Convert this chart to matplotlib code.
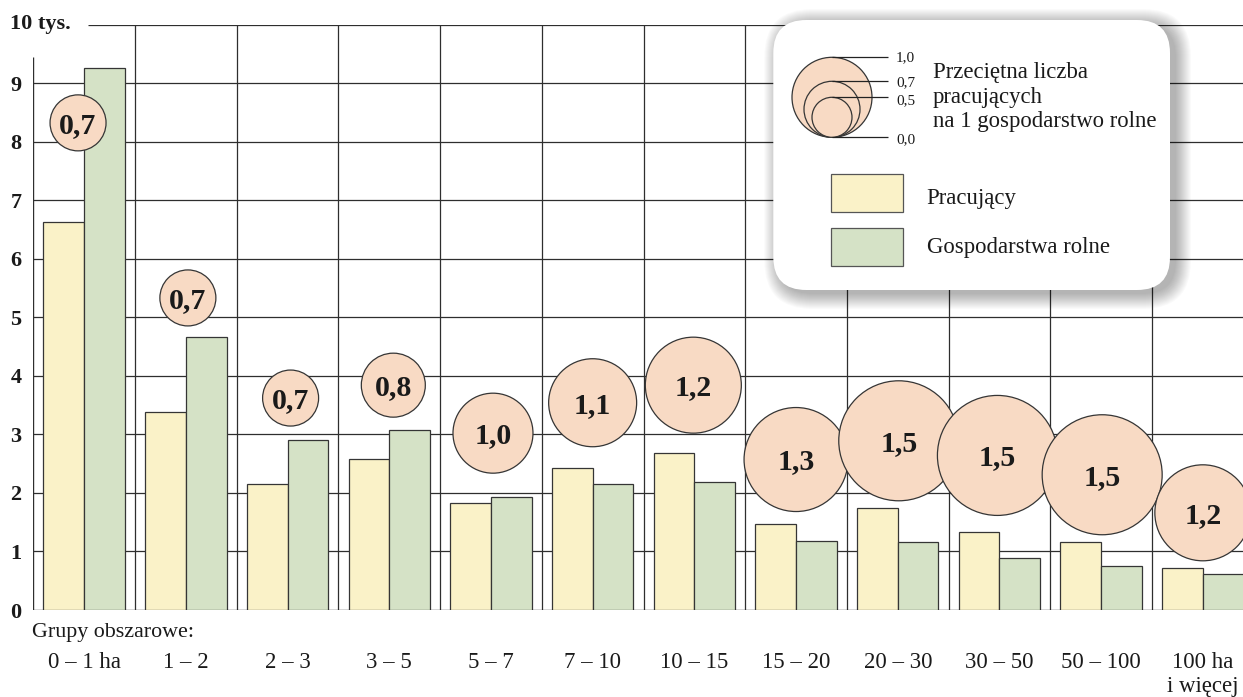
import matplotlib
matplotlib.use("Agg")
import matplotlib.pyplot as plt
import matplotlib.transforms as mtransforms
from matplotlib.patches import FancyBboxPatch, Circle, Rectangle
import numpy as np

plt.rcParams['font.family'] = ['Liberation Serif', 'DejaVu Serif']

# ---------------- data ----------------
categories = ["0 – 1 ha", "1 – 2", "2 – 3", "3 – 5", "5 – 7", "7 – 10", "10 – 15",
              "15 – 20", "20 – 30", "30 – 50", "50 – 100", "100 ha\ni więcej"]
pracujacy = [6.63, 3.38, 2.15, 2.58, 1.83, 2.43, 2.68, 1.47, 1.74, 1.33, 1.16, 0.71]
gospodarstwa = [9.25, 4.66, 2.90, 3.07, 1.93, 2.15, 2.19, 1.17, 1.16, 0.88, 0.76, 0.61]
przecietna = [0.7, 0.7, 0.7, 0.8, 1.0, 1.1, 1.2, 1.3, 1.5, 1.5, 1.5, 1.2]
y_ticks = [0, 1, 2, 3, 4, 5, 6, 7, 8, 9]
y_unit_label = "10 tys."
x_title = "Grupy obszarowe:"
legend_sizes = [1.0, 0.7, 0.5, 0.0]
legend_title = ["Przeciętna liczba", "pracujących", "na 1 gospodarstwo rolne"]
series_names = ["Pracujący", "Gospodarstwa rolne"]

# ---------------- layout (bubble placement) ----------------
bubble_y = [8.32, 5.33, 3.62, 3.84, 3.02, 3.54, 3.84, 2.57, 2.89, 2.64, 2.31, 1.66]
bubble_dx = [-0.06, 0.02, 0.03, 0.04, 0.02, 0.0, -0.01, 0.0, 0.01, -0.02, 0.01, 0.0]

# ---------------- style ----------------
C_YEL = "#FAF2C8"
C_GRN = "#D5E2C6"
C_PEACH = "#F8DAC4"
C_LINE = "#2e2e2e"
C_EDGE = "#353535"
C_TXT = "#1a1a1a"

def fmt(v):
    return f"{v:.1f}".replace(".", ",")

W, H = 1243, 697
x0px, y0px, ytop = 33.3, 610.0, 24.5
gw = 101.7

fig = plt.figure(figsize=(W / 100, H / 100), dpi=100)
ax = fig.add_axes([x0px / W, (H - y0px) / H, (W - x0px) / W, (y0px - ytop) / H])
xmax = -0.5 + (W - x0px) / gw
ax.set_xlim(-0.5, xmax)
ax.set_ylim(0, 10)
for s in ax.spines.values():
    s.set_visible(False)
ax.set_xticks([])

n = len(categories)
x = np.arange(n)

# grid
ax.hlines(y_ticks[1:], -0.5, xmax, color=C_LINE, lw=0.9, zorder=1)
ax.hlines(0, -0.5, xmax, color=C_LINE, lw=1.0, zorder=1)
ax.hlines(10, -0.5 + (88 - x0px) / gw, xmax, color=C_LINE, lw=0.9, zorder=1)
ax.vlines(np.arange(0.5, n - 0.5), 0, 10, color=C_LINE, lw=0.9, zorder=1)
ax.vlines(-0.5, 0, 9.45, color=C_LINE, lw=1.0, zorder=1)

# bars
ax.bar(x - 0.2, pracujacy, width=0.4, color=C_YEL, edgecolor=C_EDGE, linewidth=0.9, zorder=2)
ax.bar(x + 0.2, gospodarstwa, width=0.4, color=C_GRN, edgecolor=C_EDGE, linewidth=0.9, zorder=2)

# bubbles (radius 40 px per 1.0)
bx = x + np.array(bubble_dx)
sizes = [(57.6 * v) ** 2 for v in przecietna]
ax.scatter(bx, bubble_y, s=sizes, color=C_PEACH, edgecolors=C_EDGE, linewidths=0.9,
           zorder=3, clip_on=False)
for xi, yi, v in zip(bx, bubble_y, przecietna):
    ax.annotate(fmt(v), (xi, yi), xytext=(0, -7.2), textcoords="offset points",
                ha="center", va="baseline", fontsize=21.5, fontweight="bold",
                color=C_TXT, zorder=4)

# y tick labels
ax.set_yticks(y_ticks)
ax.set_yticklabels([str(t) for t in y_ticks], fontsize=16, fontweight="bold")
ax.tick_params(axis="y", length=0, pad=8.4, colors=C_TXT)
tr = mtransforms.blended_transform_factory(fig.transFigure, ax.transData)
ax.text(10 / W, 10, y_unit_label, transform=tr, ha="left", va="center",
        fontsize=16, fontweight="bold", color=C_TXT)

# category labels
xtr = ax.get_xaxis_transform()
ah = y0px - ytop
for i, c in enumerate(categories):
    for j, line in enumerate(c.split("\n")):
        py = 668 + 24 * j
        ax.text(i, (y0px - py) / ah, line, transform=xtr, ha="center", va="baseline",
                fontsize=16.5, color=C_TXT, clip_on=False)
fig.text(32 / W, (H - 636.7) / H, x_title, ha="left", va="baseline", fontsize=15.8,
         color=C_TXT)

# ---------------- legend (pixel coordinates) ----------------
lax = fig.add_axes([0, 0, 1, 1], zorder=5)
lax.set_xlim(0, W)
lax.set_ylim(H, 0)
lax.axis("off")
lax.patch.set_alpha(0)

bx0, by0, bx1, by1 = 773.3, 20.0, 1170.0, 290.0
for k in range(16):
    lax.add_patch(FancyBboxPatch((bx0 + 6 - k, by0 + 4 - k), (bx1 - bx0) + 2 * k, (by1 - by0) + 2 * k,
                                 boxstyle=f"round,pad=0,rounding_size={33 + k}",
                                 fc="black", ec="none", alpha=0.018))
lax.add_patch(FancyBboxPatch((bx0, by0), bx1 - bx0, by1 - by0,
                             boxstyle="round,pad=0,rounding_size=33", fc="white", ec="none"))

cx, cbot = 832.0, 137.3
for v in legend_sizes[:-1]:
    r = 40 * v
    lax.add_patch(Circle((cx, cbot - r), r, fc=C_PEACH, ec=C_EDGE, lw=0.9))
line_y = [cbot - 2 * 40 * v for v in legend_sizes]
lax.hlines(line_y, cx, 888, color="#222222", lw=0.9)
lab_base = [60.7, 86.0, 104.0, 142.7]
for v, yb in zip(legend_sizes, lab_base):
    lax.text(896, yb, fmt(v), ha="left", va="baseline", fontsize=11, color=C_TXT)
for t, yb in zip(legend_title, [78.3, 102.7, 127.3]):
    lax.text(932.7, yb, t, ha="left", va="baseline", fontsize=16.4, color=C_TXT)

for col, (y_a, y_b), name, yb in zip([C_YEL, C_GRN], [(174, 211.7), (228, 266)], series_names,
                                     [204, 253.3]):
    lax.add_patch(Rectangle((830.7, y_a), 72.6, y_b - y_a, fc=col, ec="#555555", lw=0.9))
    lax.text(926.7, yb, name, ha="left", va="baseline", fontsize=16.4, color=C_TXT)

fig.savefig("out.png", dpi=100)
